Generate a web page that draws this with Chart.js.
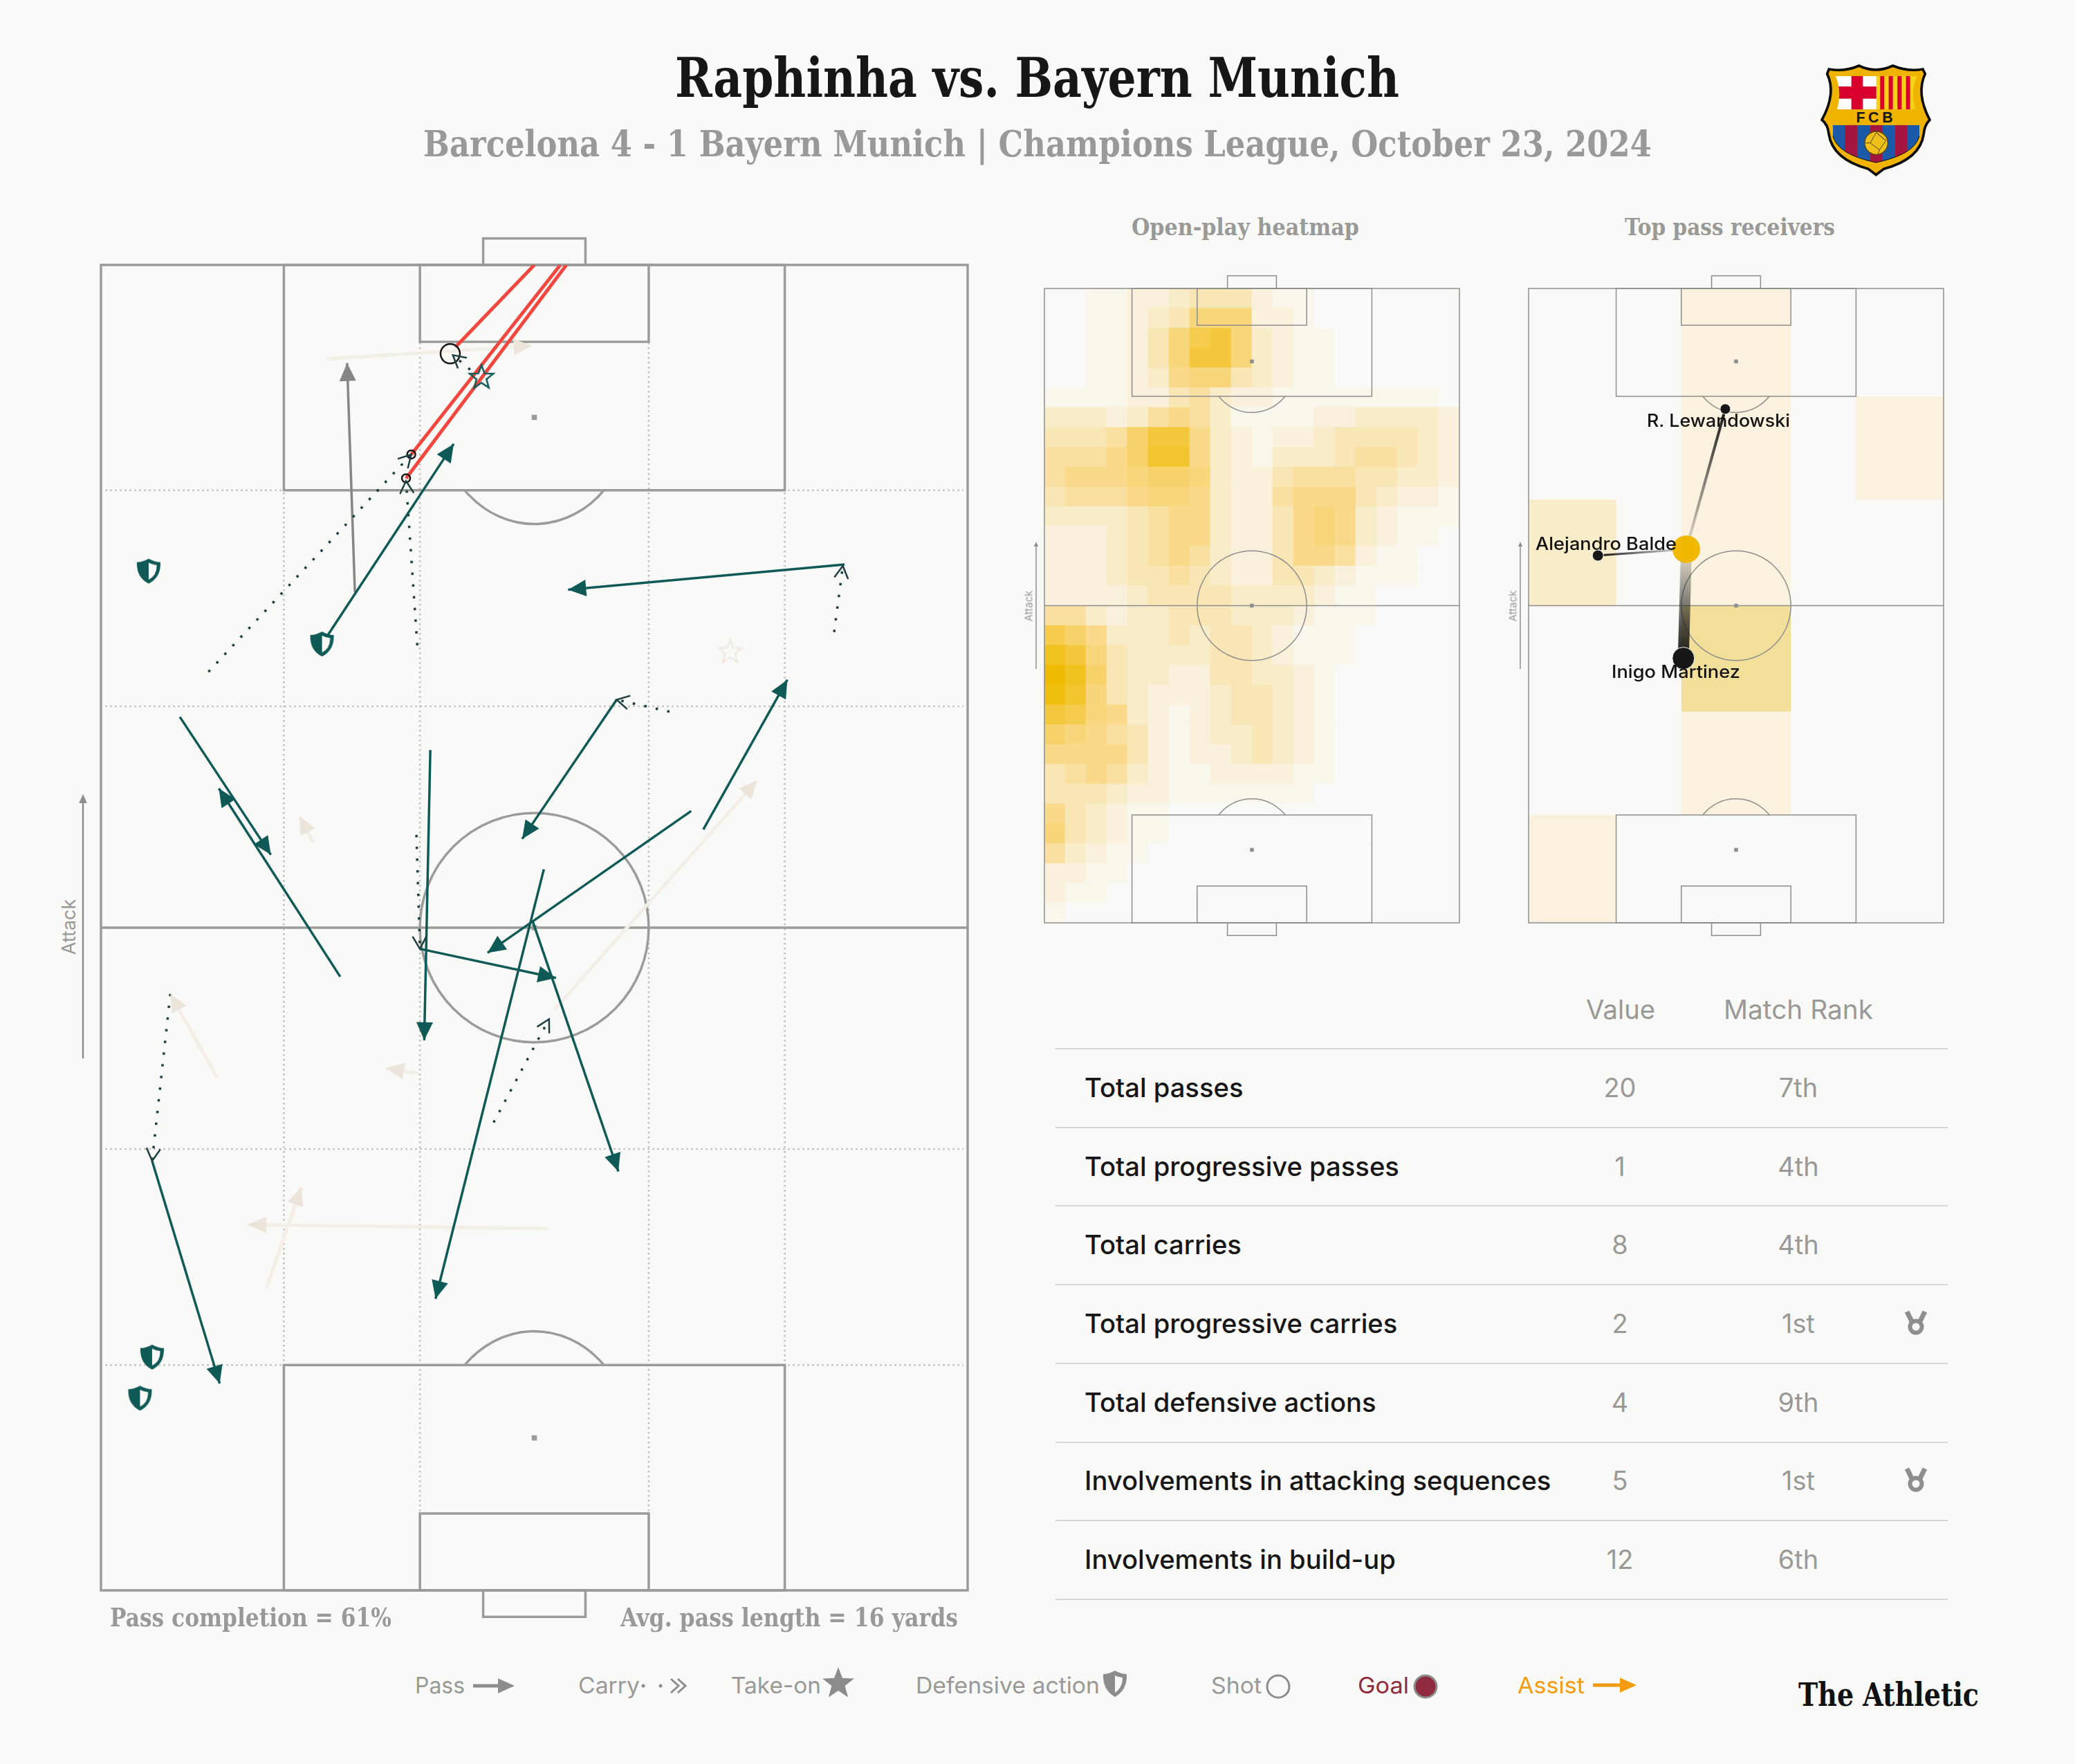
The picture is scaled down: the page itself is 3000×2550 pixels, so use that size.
<!DOCTYPE html>
<html>
<head>
<meta charset="utf-8">
<title>Raphinha vs. Bayern Munich</title>
<script src="https://cdn.jsdelivr.net/npm/chart.js@4"></script>
<style>
    html, body { margin: 0; background: #f9f9f7; }
    #page { position: relative; width: 3000px; height: 2550px; overflow: hidden; background: #f9f9f7; }
    canvas { position: absolute; }
    #deco { position: absolute; left: 0; top: 0; }
    .txt { position: absolute; white-space: nowrap; line-height: 1; transform-origin: left center; }
    .slab { font-family: "DejaVu Serif", serif; font-weight: 700; }
    .sans { font-family: Inter, sans-serif; }
    .rule { position: absolute; left: 1526px; width: 1290px; height: 2px; background: #d6d6d4; }
</style>
</head>
<body>
<div id="page">
    <svg id="deco" width="3000" height="2550"></svg>
    <canvas id="mainPitch" width="1293" height="2030" style="left:126px;top:330px"></canvas>
    <canvas id="heatPitch" width="640" height="957" style="left:1490px;top:397px"></canvas>
    <canvas id="receiverPitch" width="640" height="957" style="left:2190px;top:397px"></canvas>
</div>
<script>
// Pitch coordinates: x 0-100 left to right, y 0-100 own goal to attacking goal

// [startX, startY, endX, endY]
const passes = [
    [26.1, 72.0, 40.7, 86.5],
    [85.8, 77.4, 53.9, 75.5],
    [59.5, 67.2, 48.6, 56.7],
    [69.5, 57.4, 79.2, 68.7],
    [9.1, 65.9, 19.6, 55.5],
    [27.6, 46.3, 13.6, 60.5],
    [38.0, 63.4, 37.3, 41.5],
    [68.1, 58.8, 44.6, 48.1],
    [51.1, 54.4, 38.6, 22.0],
    [49.8, 50.5, 59.7, 31.6],
    [36.8, 48.4, 52.5, 46.2],
    [5.9, 32.4, 13.7, 15.6]
];
const keyPasses = [
    [29.3, 75.3, 28.4, 92.6]
];
const failedPasses = [
    [26.1, 92.9, 49.7, 93.9],
    [24.5, 56.4, 22.9, 58.4],
    [52.3, 43.8, 75.7, 61.1],
    [13.4, 38.7, 8.0, 45.0],
    [36.6, 39.0, 32.9, 39.4],
    [19.1, 22.8, 23.1, 30.4],
    [51.5, 27.3, 17.0, 27.6]
];
const carries = [
    [12.4, 69.3, 35.8, 85.7],
    [36.5, 71.3, 35.2, 83.7],
    [84.6, 72.3, 85.6, 77.3],
    [65.6, 66.3, 59.5, 67.2],
    [36.4, 57.0, 36.8, 48.4],
    [45.3, 35.3, 51.7, 43.1],
    [8.0, 45.0, 5.9, 32.4],
    [42.6, 92.1, 40.6, 93.2]
];
const shotLines = [
    [40.9, 93.8, 50.0, 100],
    [35.8, 85.7, 53.0, 100],
    [35.2, 83.9, 53.7, 100]
];
const shotSpots = [
    { x: 40.3, y: 93.3 },
    { x: 35.8, y: 85.7 },
    { x: 35.2, y: 83.9 }
];
const shotXg = [14, 6, 6];
const takeOnsWon = [{ x: 43.9, y: 91.5 }];
const takeOnsLost = [{ x: 72.6, y: 70.8 }];
const defensiveActions = [
    { x: 5.5, y: 76.9 },
    { x: 25.5, y: 71.4 },
    { x: 5.9, y: 17.6 },
    { x: 4.5, y: 14.5 }
];

// Heatmap intensity 0-f, rows from the attacking end down
const heatRows = [
    '00112234442110000000',
    '00112347772210000000',
    '0011247ab73211000000',
    '0011247bb73211000000',
    '00112367743211000000',
    '11112245322111111110',
    '33323565311112233332',
    '44458bb6321223444432',
    '55568cc6321333455432',
    '56667887322455544332',
    '45556776322566643221',
    '33334566322467632111',
    '22234566322467632110',
    '22234565322466521100',
    '22234454322443211100',
    '22223444433332110000',
    '55323344433321110000',
    'a8633343443211100000',
    'db743333443211100000',
    'fd843322443321000000',
    'ec743222344321000000',
    'ba763212344321000000',
    '87654212334321000000',
    '66664212234321000000',
    '45653211222211000000',
    '44432211111110000000',
    '64321100000000000000',
    '74321100000000000000',
    '53211000000000000000',
    '22110000000000000000',
    '21100000000000000000',
    '10000000000000000000'
];

// Top pass receivers
const zoneCells = [
    [36.8, 63.2, 50, 100, '#faf1de'],
    [36.8, 63.2, 33.3, 50, '#f2e09a'],
    [36.8, 63.2, 17, 33.3, '#faf1de'],
    [0, 21.1, 50, 66.7, '#f8ecc9'],
    [0, 21.1, 0, 17, '#faf1de'],
    [78.9, 100, 66.7, 83, '#faf1de']
];
const playerSpot = { x: 38.0, y: 58.9 };
const receiverNames = ['R. Lewandowski', 'Alejandro Balde', 'Inigo Martinez'];
const receiverSpots = [
    { x: 47.4, y: 81.0 },
    { x: 16.7, y: 57.9 },
    { x: 37.3, y: 41.7 }
];
const receiverCounts = [4, 3, 16];
const receiverDots = [7.5, 8, 16];

// Stats table
const statLabels = ['Total passes', 'Total progressive passes', 'Total carries', 'Total progressive carries',
    'Total defensive actions', 'Involvements in attacking sequences', 'Involvements in build-up'];
const statValues = ['20', '1', '8', '2', '4', '5', '12'];
const statRanks = ['7th', '4th', '4th', '1st', '9th', '1st', '6th'];

const TEAL = '#0f5a57';
const CARRY = '#1d3f40';
const GREY = '#999997';
const page = document.getElementById('page');
const deco = document.getElementById('deco');

// Text helper: placed by left edge and vertical centre, squeezed to the measured width
function addText(text, left, midY, width, size, cls, color, weight) {
    const el = document.createElement('div');
    el.className = 'txt ' + cls;
    el.textContent = text;
    el.style.left = left + 'px';
    el.style.top = midY + 'px';
    el.style.fontSize = size + 'px';
    el.style.color = color;
    if (weight) el.style.fontWeight = weight;
    page.appendChild(el);
    const scale = width / el.getBoundingClientRect().width;
    el.style.transform = `translateY(-50%) scaleX(${scale})`;
    return el;
}

function addAttackLabel(cx, cy, size) {
    const el = document.createElement('div');
    el.className = 'txt sans';
    el.textContent = 'Attack';
    el.style.left = cx + 'px';
    el.style.top = cy + 'px';
    el.style.fontSize = size + 'px';
    el.style.color = GREY;
    el.style.transformOrigin = 'center';
    el.style.transform = 'translate(-50%, -50%) rotate(-90deg)';
    page.appendChild(el);
}

function starPoints(cx, cy, r) {
    const pts = [];
    for (let i = 0; i < 10; i++) {
        const rad = i % 2 ? r * 0.42 : r;
        const a = -Math.PI / 2 + i * Math.PI / 5;
        pts.push([cx + rad * Math.cos(a), cy + rad * Math.sin(a)]);
    }
    return pts;
}

// Small canvases used as point styles
function makeIcon(w, h, draw) {
    const c = document.createElement('canvas');
    c.width = w;
    c.height = h;
    draw(c.getContext('2d'));
    return c;
}

function starIcon(color, r) {
    return makeIcon(r * 2 + 6, r * 2 + 6, (g) => {
        g.beginPath();
        starPoints(r + 3, r + 3, r).forEach((p) => g.lineTo(p[0], p[1]));
        g.closePath();
        g.strokeStyle = color;
        g.lineWidth = 2.5;
        g.stroke();
    });
}

const shieldIcon = makeIcon(36, 38, (g) => {
    const shield = (scale) => {
        g.save();
        g.translate(18, 19);
        g.scale(scale, scale);
        g.beginPath();
        g.moveTo(0, -18);
        g.quadraticCurveTo(9, -13, 17, -13);
        g.quadraticCurveTo(18, 9, 0, 18);
        g.quadraticCurveTo(-18, 9, -17, -13);
        g.quadraticCurveTo(-9, -13, 0, -18);
        g.closePath();
        g.restore();
    };
    shield(1);
    g.fillStyle = TEAL;
    g.fill();
    g.save();
    g.beginPath();
    g.rect(18, 0, 18, 38);
    g.clip();
    shield(0.68);
    g.fillStyle = '#f9f9f7';
    g.fill();
    g.restore();
});

// Pitch markings, always through the chart's scales
function drawPitch(chart, lineWidth, color, withThirds) {
    const { ctx } = chart;
    const sx = (chart.scales.px || chart.scales.x);
    const sy = chart.scales.y;
    const X = (v) => sx.getPixelForValue(v);
    const Y = (v) => sy.getPixelForValue(v);
    const box = (x0, x1, y0, y1) => ctx.strokeRect(X(x0), Y(y1), X(x1) - X(x0), Y(y0) - Y(y1));
    const ellipse = (cy, rx, ry, from, to) => {
        ctx.beginPath();
        ctx.ellipse(X(50), Y(cy), X(rx) - X(0), Y(0) - Y(ry), 0, from, to);
        ctx.stroke();
    };
    ctx.save();
    ctx.strokeStyle = color;
    ctx.fillStyle = color;
    if (withThirds) {
        ctx.lineWidth = 2.5;
        ctx.strokeStyle = '#bdbdbb';
        ctx.setLineDash([2.5, 4.5]);
        [17, 33.3, 66.7, 83].forEach((v) => {
            ctx.beginPath();
            ctx.moveTo(X(0.5), Y(v));
            ctx.lineTo(X(99.5), Y(v));
            ctx.stroke();
        });
        [21.1, 36.8, 63.2, 78.9].forEach((v) => {
            ctx.beginPath();
            ctx.moveTo(X(v), Y(0.5));
            ctx.lineTo(X(v), Y(99.5));
            ctx.stroke();
        });
        ctx.setLineDash([]);
        ctx.strokeStyle = color;
    }
    ctx.lineWidth = lineWidth;
    box(0, 100, 0, 100);
    box(21.1, 78.9, 0, 17);
    box(21.1, 78.9, 83, 100);
    box(36.8, 63.2, 0, 5.8);
    box(36.8, 63.2, 94.2, 100);
    box(44.1, 55.9, -2, 0);
    box(44.1, 55.9, 100, 102);
    ctx.beginPath();
    ctx.moveTo(X(0), Y(50));
    ctx.lineTo(X(100), Y(50));
    ctx.stroke();
    ellipse(50, 13.2, 8.65, 0, Math.PI * 2);
    const open = 43 * Math.PI / 180;
    ellipse(88.5, 11, 8.05, open, Math.PI - open);
    ellipse(11.5, 11, 8.05, Math.PI + open, Math.PI * 2 - open);
    const spot = lineWidth + 4;
    [[50, 88.5], [50, 50], [50, 11.5]].forEach((p) => {
        ctx.fillRect(X(p[0]) - spot / 2, Y(p[1]) - spot / 2, spot, spot);
    });
    ctx.restore();
}

// Arrow heads sit on the last point of every two-point dataset that asks for one
const arrowHeads = {
    id: 'arrowHeads',
    afterDatasetsDraw(chart) {
        const { ctx } = chart;
        for (let i = chart.data.datasets.length - 1; i >= 0; i--) {
            const ds = chart.data.datasets[i];
            if (!ds.head) continue;
            const pts = chart.getDatasetMeta(i).data;
            const a = pts[0];
            const b = pts[1];
            const ang = Math.atan2(b.y - a.y, b.x - a.x);
            ctx.save();
            ctx.translate(b.x, b.y);
            ctx.rotate(ang);
            ctx.beginPath();
            if (ds.head === 'fill') {
                ctx.moveTo(0, 0);
                ctx.lineTo(-26, -12);
                ctx.lineTo(-26, 12);
                ctx.closePath();
                ctx.fillStyle = ds.headColor || ds.borderColor;
                ctx.fill();
            } else {
                ctx.moveTo(-18, -10);
                ctx.lineTo(0, 0);
                ctx.lineTo(-18, 10);
                ctx.strokeStyle = ds.headColor;
                ctx.lineWidth = 2.5;
                ctx.stroke();
            }
            ctx.restore();
        }
    }
};

const mainPitchLines = {
    id: 'mainPitchLines',
    beforeDatasetsDraw(chart) {
        drawPitch(chart, 3.5, '#9b9b99', true);
    }
};

function segment(seg, style) {
    return Object.assign({
        data: [{ x: seg[0], y: seg[1] }, { x: seg[2], y: seg[3] }],
        showLine: true,
        pointRadius: 0
    }, style);
}

function hiddenScales() {
    return {
        x: { type: 'linear', min: 0, max: 100, display: false },
        y: { type: 'linear', min: 0, max: 100, display: false }
    };
}

const baseOptions = {
    responsive: false,
    animation: false,
    events: [],
    plugins: { legend: { display: false }, tooltip: { enabled: false } }
};

function initMainPitch() {
    const datasets = [
        { data: defensiveActions, pointStyle: shieldIcon, pointRadius: 18 },
        { data: takeOnsWon, pointStyle: starIcon(TEAL, 18), pointRadius: 18 },
        { data: shotSpots, pointStyle: 'circle', pointRadius: shotXg, borderColor: '#161616', borderWidth: 2.5, backgroundColor: 'transparent' }
    ];
    carries.forEach((c) => datasets.push(segment(c, {
        borderColor: CARRY, borderWidth: 3.5, borderDash: [3.5, 13.5], head: 'open', headColor: CARRY
    })));
    shotLines.forEach((s) => datasets.push(segment(s, { borderColor: '#f2473f', borderWidth: 5 })));
    passes.forEach((p) => datasets.push(segment(p, { borderColor: TEAL, borderWidth: 3.5, head: 'fill' })));
    keyPasses.forEach((p) => datasets.push(segment(p, { borderColor: '#868684', borderWidth: 3.5, head: 'fill' })));
    failedPasses.forEach((p) => datasets.push(segment(p, {
        borderColor: '#f3efe7', borderWidth: 5, head: 'fill', headColor: '#ebe4da'
    })));
    datasets.push({ data: takeOnsLost, pointStyle: starIcon('#eeeadf', 18), pointRadius: 18 });

    new Chart(document.getElementById('mainPitch'), {
        type: 'scatter',
        data: { datasets },
        options: Object.assign({}, baseOptions, {
            layout: { padding: { left: 20, right: 20, top: 53, bottom: 61 } },
            scales: hiddenScales()
        }),
        plugins: [mainPitchLines, arrowHeads]
    });
}

// Heatmap: one stacked bar series per row, one colour per column
function heatColour(level) {
    const stops = level <= 6
        ? [[249, 249, 247], [249, 217, 138], Math.pow(level / 6, 1.25)]
        : [[249, 217, 138], [239, 187, 0], (level - 6) / 9];
    const c = stops[0].map((from, i) => Math.round(from + (stops[1][i] - from) * stops[2]));
    return `rgb(${c[0]}, ${c[1]}, ${c[2]})`;
}

function initHeatPitch() {
    const columns = heatRows[0].split('').map((_, i) => i);
    const datasets = heatRows.slice().reverse().map((row) => ({
        data: columns.map(() => 100 / heatRows.length),
        backgroundColor: row.split('').map((ch) => heatColour(parseInt(ch, 16))),
        borderWidth: 0,
        barPercentage: 1,
        categoryPercentage: 1
    }));
    new Chart(document.getElementById('heatPitch'), {
        type: 'bar',
        data: { labels: columns, datasets },
        options: Object.assign({}, baseOptions, {
            layout: { padding: 20 },
            scales: {
                x: { stacked: true, display: false },
                y: { stacked: true, min: 0, max: 100, display: false },
                px: { type: 'linear', axis: 'x', min: 0, max: 100, offset: false, display: false }
            }
        }),
        plugins: [{
            id: 'heatPitchLines',
            afterDatasetsDraw(chart) {
                drawPitch(chart, 1.5, '#8e8e8c', false);
            }
        }]
    });
}

function initReceiverPitch() {
    const linkGradient = (spot) => (ctx) => {
        const chart = ctx.chart;
        if (!chart.chartArea) return '#1a1a1a';
        const g = chart.ctx.createLinearGradient(
            chart.scales.x.getPixelForValue(spot.x), chart.scales.y.getPixelForValue(spot.y),
            chart.scales.x.getPixelForValue(playerSpot.x), chart.scales.y.getPixelForValue(playerSpot.y));
        g.addColorStop(0, '#161616');
        g.addColorStop(0.95, 'rgba(22, 22, 22, 0.12)');
        return g;
    };
    const datasets = [
        { data: [playerSpot], pointRadius: 20, pointBackgroundColor: '#f0b800', pointBorderWidth: 0 },
        {
            data: receiverSpots,
            pointRadius: receiverDots,
            pointBackgroundColor: '#161616',
            pointBorderColor: '#f9f9f7',
            pointBorderWidth: 1
        }
    ];
    receiverSpots.forEach((spot, i) => {
        datasets.push({
            data: [spot, playerSpot],
            showLine: true,
            pointRadius: 0,
            borderWidth: receiverCounts[i],
            borderColor: linkGradient(spot)
        });
    });
    const firstLink = 2 + receiverSpots.length - 1;
    zoneCells.forEach((z) => {
        datasets.push({
            data: [{ x: z[0], y: z[2] }, { x: z[1], y: z[2] }, { x: z[1], y: z[3] }, { x: z[0], y: z[3] }],
            showLine: true,
            pointRadius: 0,
            borderWidth: 0,
            fill: 'shape',
            backgroundColor: z[4]
        });
    });
    new Chart(document.getElementById('receiverPitch'), {
        type: 'scatter',
        data: { datasets },
        options: Object.assign({}, baseOptions, {
            layout: { padding: 20 },
            scales: hiddenScales()
        }),
        plugins: [{
            id: 'receiverPitchLines',
            beforeDatasetDraw(chart, args) {
                if (args.index === firstLink) drawPitch(chart, 1.5, '#8e8e8c', false);
            }
        }]
    });
}

function initText() {
    addText('Raphinha vs. Bayern Munich', 976, 113, 1047, 78, 'slab', '#161616');
    addText('Barcelona 4 - 1 Bayern Munich | Champions League, October 23, 2024', 612, 208, 1776, 52, 'slab', GREY);
    addText('Open-play heatmap', 1636, 328, 329, 33, 'slab', GREY);
    addText('Top pass receivers', 2349, 328, 304, 33, 'slab', GREY);
    addText('Pass completion = 61%', 159, 2338, 407, 37, 'slab', GREY);
    addText('Avg. pass length = 16 yards', 897, 2338, 488, 37, 'slab', GREY);

    addAttackLabel(99, 1340, 27);
    addAttackLabel(1487, 876, 15);
    addAttackLabel(2187, 876, 15);

    addText(receiverNames[0], 2381, 608, 207, 25, 'sans', '#111', 500);
    addText(receiverNames[1], 2220, 786, 204, 25, 'sans', '#111', 500);
    addText(receiverNames[2], 2330, 971, 186, 25, 'sans', '#111', 500);

    // Stats table
    addText('Value', 2293, 1459, 100, 38, 'sans', GREY, 400);
    addText('Match Rank', 2492, 1459, 216, 38, 'sans', GREY, 400);
    const first = 1515;
    const step = 113.7;
    for (let i = 0; i <= statLabels.length; i++) {
        const rule = document.createElement('div');
        rule.className = 'rule';
        rule.style.top = (first + step * i) + 'px';
        page.appendChild(rule);
    }
    statLabels.forEach((label, i) => {
        const y = first + step * (i + 0.5);
        const el = addText(label, 1568, y, label.length * 18.9, 38.2, 'sans', '#161616', 500);
        el.style.transform = 'translateY(-50%)';
        [[statValues[i], 2342], [statRanks[i], 2600]].forEach(([text, cx]) => {
            const cell = addText(text, cx, y, 10, 38, 'sans', GREY, 400);
            cell.style.transform = 'translate(-50%, -50%)';
        });
    });

    // Legend
    const legend = [
        ['Pass', 600, 72, GREY], ['Carry', 836, 89, GREY], ['Take-on', 1057, 130, GREY],
        ['Defensive action', 1324, 266, GREY], ['Shot', 1751, 73, GREY],
        ['Goal', 1963, 74, '#8f2a3f'], ['Assist', 2194, 97, '#f39c12']
    ];
    legend.forEach((l) => addText(l[0], l[1], 2436, l[2], 33, 'sans', l[3], 400));
    addText('The Athletic', 2600, 2450, 261, 46, 'slab', '#111');
}

function initDeco() {
    const arrow = (x0, y0, x1, y1, color, w, head) => {
        const a = Math.atan2(y1 - y0, x1 - x0);
        const bx = x1 - head * Math.cos(a);
        const by = y1 - head * Math.sin(a);
        const px = Math.sin(a) * head * 0.45;
        const py = Math.cos(a) * head * 0.45;
        return `<line x1="${x0}" y1="${y0}" x2="${bx}" y2="${by}" stroke="${color}" stroke-width="${w}"/>` +
            `<polygon points="${x1},${y1} ${bx + px},${by - py} ${bx - px},${by + py}" fill="${color}"/>`;
    };
    const star = starPoints(1212, 2434, 24).map((p) => p.join(',')).join(' ');
    const medal = (cx, cy) => `<g transform="translate(${cx} ${cy})" fill="none" stroke="#8e8e8c">
        <path d="M-13,-15 L-5,1 M13,-15 L5,1" stroke-width="7"/>
        <circle cx="0" cy="7" r="8.5" stroke-width="6"/></g>`;
    const crest = `<g transform="translate(2580 60) scale(0.3333)">
        <clipPath id="crestTop"><path d="M222,150 H575 Q545,220 568,295 H228 Q250,220 222,150 Z"/></clipPath>
        <clipPath id="crestLow"><path d="M210,362 H585 V410 Q565,490 397,525 Q230,490 210,410 Z"/></clipPath>
        <path d="M193,120 Q262,132 323,105 Q395,140 470,105 Q535,132 600,120 L610,140 Q570,225 630,340 Q608,360 604,400 Q590,510 430,553 L397,578 L364,553 Q207,510 192,400 Q188,360 162,340 Q226,225 185,140 Z" fill="#f0b400" stroke="#0b0b0b" stroke-width="11"/>
        <g clip-path="url(#crestTop)">
            <rect x="220" y="140" width="180" height="160" fill="#fff"/>
            <rect x="220" y="195" width="180" height="53" fill="#d8002c"/>
            <rect x="290" y="140" width="50" height="160" fill="#d8002c"/>
            <rect x="398" y="140" width="180" height="160" fill="#f7d117"/>
            <rect x="415" y="140" width="18" height="160" fill="#d8002c"/>
            <rect x="452" y="140" width="18" height="160" fill="#d8002c"/>
            <rect x="490" y="140" width="18" height="160" fill="#d8002c"/>
            <rect x="527" y="140" width="18" height="160" fill="#d8002c"/>
        </g>
        <g clip-path="url(#crestLow)">
            <rect x="205" y="360" width="390" height="170" fill="#1a5aa8"/>
            <rect x="262" y="360" width="53" height="170" fill="#a3163f"/>
            <rect x="372" y="360" width="53" height="170" fill="#a3163f"/>
            <rect x="480" y="360" width="53" height="170" fill="#a3163f"/>
        </g>
        <path d="M210,410 Q230,490 397,525 Q565,490 585,410" fill="none" stroke="#0b0b0b" stroke-width="3"/>
        <circle cx="398" cy="440" r="50" fill="#efbf1c" stroke="#5a4300" stroke-width="4"/>
        <path d="M398,395 L372,440 L412,470 L440,430 Z M372,440 L352,440 M412,470 L405,488 M398,395 L440,430" fill="none" stroke="#5a4300" stroke-width="3"/>
        <text x="397" y="350" text-anchor="middle" font-family="Liberation Sans, sans-serif" font-weight="700" font-size="64" letter-spacing="14" fill="#161616">FCB</text>
    </g>`;
    deco.innerHTML = [
        arrow(120, 1530, 120, 1148, '#8e8e8c', 2.5, 13),
        arrow(1498, 967, 1498, 783, '#8e8e8c', 1.5, 7),
        arrow(2198, 967, 2198, 783, '#8e8e8c', 1.5, 7),
        arrow(684, 2437, 744, 2437, '#8c8c8a', 5, 24),
        `<circle cx="930" cy="2437" r="2.5" fill="#8c8c8a"/><circle cx="955" cy="2437" r="2.5" fill="#8c8c8a"/>`,
        `<path d="M970,2427 L981,2437 L970,2447 M980,2427 L991,2437 L980,2447" fill="none" stroke="#8c8c8a" stroke-width="3"/>`,
        `<polygon points="${star}" fill="#8c8c8a"/>`,
        `<g transform="translate(1612 2434)"><path d="M0,-19 Q9,-14 17,-14 Q18,9 0,19 Q-18,9 -17,-14 Q-9,-14 0,-19 Z" fill="#8c8c8a"/><path d="M0,-12 Q6,-9 11,-9 Q11,6 0,13 Z" fill="#f9f9f7"/></g>`,
        `<circle cx="1848" cy="2438" r="16" fill="none" stroke="#8c8c8a" stroke-width="3"/>`,
        `<circle cx="2061" cy="2438" r="16" fill="#8f2a3f" stroke="#8c8c8a" stroke-width="3"/>`,
        arrow(2303, 2436, 2366, 2436, '#f39c12', 5, 24),
        medal(2770, 1911),
        medal(2770, 2138),
        crest
    ].join('');
}

document.addEventListener('DOMContentLoaded', () => {
    initDeco();
    initText();
    initMainPitch();
    initHeatPitch();
    initReceiverPitch();
});
</script>
</body>
</html>
